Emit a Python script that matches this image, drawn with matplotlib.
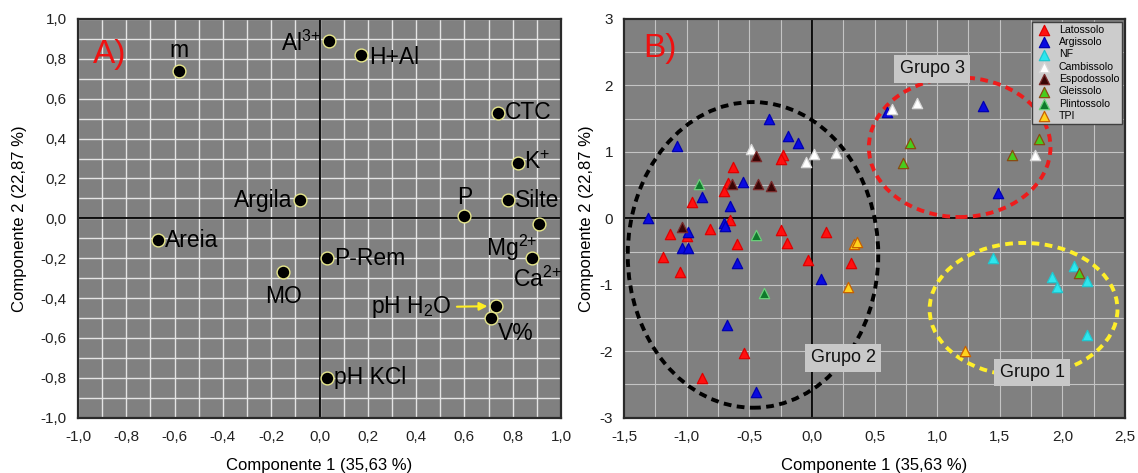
import matplotlib
matplotlib.use("Agg")
import matplotlib.pyplot as plt
from matplotlib.patches import Ellipse

plt.rcParams['font.family'] = ['Liberation Sans', 'DejaVu Sans']
plt.rcParams['mathtext.fontset'] = 'custom'
plt.rcParams['mathtext.rm'] = 'Liberation Sans'
plt.rcParams['mathtext.it'] = 'Liberation Sans:italic'
plt.rcParams['mathtext.default'] = 'regular'

# ---------------- Panel A: loadings of the soil variables ----------------
var_names = ["m", "Al$^{3{+}}$", "H+Al", "CTC", "K$^{{+}}$", "Argila", "P", "Silte",
             "Mg$^{2{+}}$", "Areia", "P-Rem", "Ca$^{2{+}}$", "MO", "pH H$_2$O", "V%", "pH KCl"]
var_pc1 = [-0.58, 0.04, 0.17, 0.74, 0.82, -0.08, 0.60, 0.78,
           0.91, -0.67, 0.03, 0.88, -0.15, 0.73, 0.71, 0.03]
var_pc2 = [0.74, 0.89, 0.82, 0.53, 0.28, 0.09, 0.01, 0.09,
           -0.03, -0.11, -0.20, -0.20, -0.27, -0.44, -0.50, -0.80]

a_ticks = [-1.0, -0.8, -0.6, -0.4, -0.2, 0.0, 0.2, 0.4, 0.6, 0.8, 1.0]
a_tick_labels = ["-1,0", "-0,8", "-0,6", "-0,4", "-0,2", "0,0", "0,2", "0,4", "0,6", "0,8", "1,0"]

# ---------------- Panel B: scores of the soil samples ----------------
soil_types = ["Latossolo", "Argissolo", "NF", "Cambissolo", "Espodossolo",
              "Gleissolo", "Plintossolo", "TPI"]

latossolo_pc1 = [-0.23, -0.25, -0.63, -0.67, -0.70, -0.96, -0.65, -1.13, -1.00, -0.81,
                 -0.25, 0.11, -0.60, -0.20, -1.19, -0.03, 0.31, -1.05, -0.54, -0.88]
latossolo_pc2 = [0.95, 0.89, 0.77, 0.53, 0.41, 0.25, -0.03, -0.24, -0.27, -0.16,
                 -0.17, -0.21, -0.38, -0.37, -0.58, -0.63, -0.67, -0.81, -2.02, -2.41]

argissolo_pc1 = [-0.34, -1.08, -0.19, -0.11, -0.55, -0.88, -0.65, -1.31, -0.70, -0.69,
                 -0.99, -1.04, -0.99, -0.60, 0.07, -0.68, -0.45, 0.60, 1.37, 1.49]
argissolo_pc2 = [1.50, 1.09, 1.24, 1.13, 0.55, 0.32, 0.18, 0.00, -0.07, -0.12,
                 -0.21, -0.45, -0.45, -0.67, -0.92, -1.60, -2.61, 1.60, 1.69, 0.38]

nf_pc1 = [1.45, 2.09, 1.92, 1.96, 2.20, 2.20]
nf_pc2 = [-0.59, -0.72, -0.88, -1.03, -0.95, -1.75]

cambissolo_pc1 = [-0.49, -0.05, 0.02, 0.19, 0.64, 0.84, 1.78]
cambissolo_pc2 = [1.04, 0.85, 0.97, 0.99, 1.65, 1.74, 0.95]

espodossolo_pc1 = [-0.45, -0.64, -0.43, -0.33, -1.04]
espodossolo_pc2 = [0.94, 0.52, 0.51, 0.49, -0.13]

gleissolo_pc1 = [0.78, 0.73, 1.60, 1.81, 2.13]
gleissolo_pc2 = [1.14, 0.84, 0.95, 1.20, -0.82]

plintossolo_pc1 = [-0.90, -0.45, -0.38]
plintossolo_pc2 = [0.51, -0.25, -1.12]

tpi_pc1 = [0.34, 0.36, 0.29, 1.22]
tpi_pc2 = [-0.38, -0.35, -1.03, -1.99]

# group outlines: name, centre, width, height
group_names = ["Grupo 1", "Grupo 2", "Grupo 3"]
group_centers = [(1.69, -1.37), (-0.47, -0.55), (1.18, 1.07)]
group_widths = [1.50, 2.00, 1.45]
group_heights = [2.00, 4.60, 2.10]

b_xticks = [-1.5, -1.0, -0.5, 0.0, 0.5, 1.0, 1.5, 2.0, 2.5]
b_xtick_labels = ["-1,5", "-1,0", "-0,5", "0,0", "0,5", "1,0", "1,5", "2,0", "2,5"]
b_yticks = [-3, -2, -1, 0, 1, 2, 3]
b_ytick_labels = ["-3", "-2", "-1", "0", "1", "2", "3"]

# ---------------- styling ----------------
BG = "#808080"
soil_face = {"Latossolo": "#ff1010", "Argissolo": "#0a0ae0", "NF": "#2ee6ee",
             "Cambissolo": "#ffffff", "Espodossolo": "#3a0606", "Gleissolo": "#48cc1c",
             "Plintossolo": "#0f7a2c", "TPI": "#ffd21e"}
soil_edge = {"Latossolo": "#e00000", "Argissolo": "#0000b0", "NF": "#20c8d0",
             "Cambissolo": "#d8d8d8", "Espodossolo": "#7a2a2a", "Gleissolo": "#8a4a10",
             "Plintossolo": "#6ad07a", "TPI": "#c86000"}
group_colors = ["#ffef2a", "#000000", "#ee1c1c"]
group_label_pos = [(1.76, -2.32), (0.25, -2.10), (0.96, 2.25)]

label_layout = {
    "m": (0, 6, "center", "bottom"),
    "Al$^{3{+}}$": (-6, -2, "right", "center"),
    "H+Al": (6, -2, "left", "center"),
    "CTC": (5, 0, "left", "center"),
    "K$^{{+}}$": (5, 0, "left", "center"),
    "Argila": (-6, 0, "right", "center"),
    "P": (0, 5, "center", "bottom"),
    "Silte": (5, 0, "left", "center"),
    "Mg$^{2{+}}$": (-1, -6, "right", "top"),
    "Areia": (5, 0, "left", "center"),
    "P-Rem": (5, 0, "left", "center"),
    "Ca$^{2{+}}$": (4, -6, "center", "top"),
    "MO": (0, -9, "center", "top"),
    "V%": (5, -3, "left", "top"),
    "pH KCl": (5, 0, "left", "center"),
}
LABEL_SIZE = 16.5

fig = plt.figure(figsize=(11.38, 4.73), dpi=100)
axA = fig.add_axes([78 / 1138, 1 - 417.7 / 473, (561 - 78) / 1138, (417.7 - 19) / 473])
axB = fig.add_axes([624 / 1138, 1 - 417.7 / 473, (1125 - 624) / 1138, (417.7 - 19) / 473])

for ax in (axA, axB):
    ax.set_facecolor(BG)
    for sp in ax.spines.values():
        sp.set_color("#2a2a2a")
        sp.set_linewidth(1.6)
    ax.tick_params(length=0, labelsize=11, labelcolor="#222222")
    ax.tick_params(axis="x", pad=9)
    ax.tick_params(axis="y", pad=8)
    ax.set_axisbelow(True)

# ----- Panel A -----
axA.set_xlim(-1, 1)
axA.set_ylim(-1, 1)
axA.set_xticks(a_ticks)
axA.set_xticklabels(a_tick_labels)
axA.set_yticks(a_ticks)
axA.set_yticklabels(a_tick_labels)
axA.set_xticks([t / 10 for t in range(-10, 11)], minor=True)
axA.set_yticks([t / 10 for t in range(-10, 11)], minor=True)
axA.tick_params(which="minor", length=0)
axA.grid(True, which="both", color="#e4e4e4", linewidth=1.0)
axA.axhline(0, color="black", linewidth=1.3, zorder=2)
axA.axvline(0, color="black", linewidth=1.3, zorder=2)

axA.scatter(var_pc1, var_pc2, s=85, c="black", edgecolors="#e6e68a", linewidths=1.0, zorder=4)
for name, x, y in zip(var_names, var_pc1, var_pc2):
    if name == "pH H$_2$O":
        axA.annotate(name, xy=(x, y), xytext=(-32, -1), textcoords="offset points",
                     ha="right", va="center", fontsize=LABEL_SIZE, zorder=5,
                     arrowprops=dict(arrowstyle="-|>", color="#ffee22", lw=1.5,
                                     shrinkA=2, shrinkB=6, mutation_scale=12))
        continue
    dx, dy, ha, va = label_layout[name]
    axA.annotate(name, xy=(x, y), xytext=(dx, dy), textcoords="offset points",
                 ha=ha, va=va, fontsize=LABEL_SIZE, zorder=5)

axA.text(-0.94, 0.82, "A)", color="#ee1111", fontsize=24, ha="left", va="center", zorder=5)
axA.set_xlabel("Componente 1 (35,63 %)", fontsize=12, labelpad=10)
axA.set_ylabel("Componente 2 (22,87 %)", fontsize=12, labelpad=10)

# ----- Panel B -----
axB.set_xlim(-1.5, 2.5)
axB.set_ylim(-3, 3)
axB.set_xticks(b_xticks)
axB.set_xticklabels(b_xtick_labels)
axB.set_yticks(b_yticks)
axB.set_yticklabels(b_ytick_labels)
axB.set_xticks([-1.5 + 0.25 * i for i in range(17)], minor=True)
axB.set_yticks([-3 + 0.5 * i for i in range(13)], minor=True)
axB.tick_params(which="minor", length=0)
axB.grid(True, which="both", color="#c4c4c4", linewidth=0.8)
axB.axhline(0, color="black", linewidth=1.3, zorder=2)
axB.axvline(0, color="black", linewidth=1.3, zorder=2)

series = {
    "Latossolo": (latossolo_pc1, latossolo_pc2),
    "Argissolo": (argissolo_pc1, argissolo_pc2),
    "NF": (nf_pc1, nf_pc2),
    "Cambissolo": (cambissolo_pc1, cambissolo_pc2),
    "Espodossolo": (espodossolo_pc1, espodossolo_pc2),
    "Gleissolo": (gleissolo_pc1, gleissolo_pc2),
    "Plintossolo": (plintossolo_pc1, plintossolo_pc2),
    "TPI": (tpi_pc1, tpi_pc2),
}
for soil in soil_types:
    xs, ys = series[soil]
    axB.scatter(xs, ys, marker="^", s=55, c=soil_face[soil], edgecolors=soil_edge[soil],
                linewidths=0.9, label=soil, zorder=4)

for name, c, w, h, col, pos in zip(group_names, group_centers, group_widths,
                                   group_heights, group_colors, group_label_pos):
    axB.add_patch(Ellipse(c, w, h, fill=False, edgecolor=col, linewidth=2.8,
                          linestyle=(0, (2.0, 1.4)), zorder=3))
    axB.text(pos[0], pos[1], name, fontsize=13, ha="center", va="center", color="#111111",
             zorder=6, bbox=dict(boxstyle="square,pad=0.3", facecolor="#c8c8c8",
                                 edgecolor="none"))

axB.text(-1.35, 2.55, "B)", color="#ee1111", fontsize=24, ha="left", va="center", zorder=5)
leg = axB.legend(loc="upper right", fontsize=7.6, frameon=True, fancybox=False,
                 facecolor="#cccccc", edgecolor="#404040", framealpha=1,
                 borderpad=0.3, labelspacing=0.22, handletextpad=0.6,
                 handlelength=1.6, borderaxespad=0.25, markerscale=1.0)
leg.get_frame().set_linewidth(1.0)
leg.set_zorder(7)
axB.set_xlabel("Componente 1 (35,63 %)", fontsize=12, labelpad=10)
axB.set_ylabel("Componente 2 (22,87 %)", fontsize=12, labelpad=4)

fig.savefig("out.png", dpi=100)
